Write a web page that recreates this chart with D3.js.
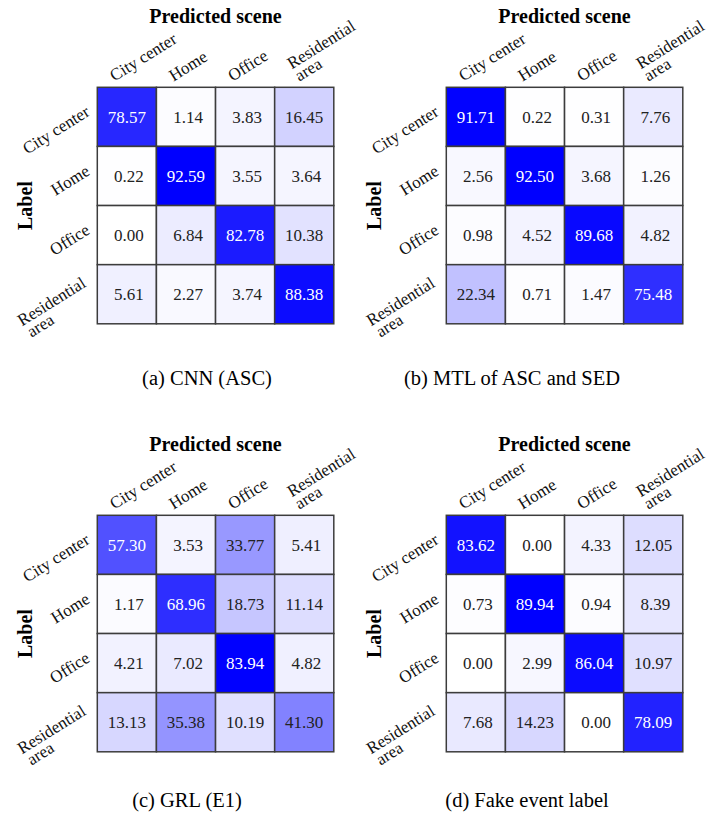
<!DOCTYPE html>
<html>
<head>
<meta charset="utf-8">
<script src="https://cdn.jsdelivr.net/npm/d3@7"></script>
<style>
  body { margin: 0; background: #fff; }
  text { font-family: "Liberation Serif", "Times New Roman", serif; }
</style>
</head>
<body>
<svg id="chart" width="722" height="814" font-family="Liberation Serif, serif"></svg>
<script>
// scene classes (axis tick labels, split into lines)
const scenes = ["City center", "Home", "Office", "Residential area"];
const sceneLines = [["City center"], ["Home"], ["Office"], ["Residential", "area"]];

// confusion matrices (%), rows = label, cols = predicted
const cnnAsc = [
  [78.57, 1.14, 3.83, 16.45],
  [0.22, 92.59, 3.55, 3.64],
  [0.0, 6.84, 82.78, 10.38],
  [5.61, 2.27, 3.74, 88.38],
];
const mtlAscSed = [
  [91.71, 0.22, 0.31, 7.76],
  [2.56, 92.5, 3.68, 1.26],
  [0.98, 4.52, 89.68, 4.82],
  [22.34, 0.71, 1.47, 75.48],
];
const grlE1 = [
  [57.3, 3.53, 33.77, 5.41],
  [1.17, 68.96, 18.73, 11.14],
  [4.21, 7.02, 83.94, 4.82],
  [13.13, 35.38, 10.19, 41.3],
];
const fakeEvent = [
  [83.62, 0.0, 4.33, 12.05],
  [0.73, 89.94, 0.94, 8.39],
  [0.0, 2.99, 86.04, 10.97],
  [7.68, 14.23, 0.0, 78.09],
];
const captions = ["(a) CNN (ASC)", "(b) MTL of ASC and SED", "(c) GRL (E1)", "(d) Fake event label"];

const svg = d3.select("#chart");
const size = 236.5; // matrix side
const angle = 32;   // tick label rotation
const lh = 14.5;    // line height of two-line labels
const fmt = d3.format("5.2f");

// panel layout: matrix top-left and caption position
const panels = [
  { data: cnnAsc, ox: 97.3, oy: 87.3, capX: 207, capY: 385 },
  { data: mtlAscSed, ox: 446.3, oy: 87.3, capX: 512, capY: 385 },
  { data: grlE1, ox: 97.3, oy: 515.3, capX: 187, capY: 807 },
  { data: fakeEvent, ox: 446.3, oy: 515.3, capX: 527, capY: 807 },
];

panels.forEach((p, i) => drawPanel(p, captions[i]));

function drawPanel(p, caption) {
  const g = svg.append("g");
  const x = d3.scaleBand().domain(scenes).range([p.ox, p.ox + size]);
  const y = d3.scaleBand().domain(scenes).range([p.oy, p.oy + size]);
  const vmax = d3.max(p.data.flat());
  const color = d3.scaleLinear().domain([0, vmax])
    .range(["#ffffff", "#0000ff"]).interpolate(d3.interpolateRgb);

  const cells = p.data.flatMap((row, r) =>
    row.map((v, c) => ({ row: scenes[r], col: scenes[c], v })));

  g.selectAll("rect.cell")
    .data(cells)
    .join("rect")
    .attr("class", "cell")
    .attr("x", (d) => x(d.col))
    .attr("y", (d) => y(d.row))
    .attr("width", x.bandwidth())
    .attr("height", y.bandwidth())
    .attr("fill", (d) => color(d.v))
    .attr("stroke", "#3c3c3c")
    .attr("stroke-width", 1.5);

  g.selectAll("text.val")
    .data(cells)
    .join("text")
    .attr("class", "val")
    .attr("x", (d) => x(d.col) + x.bandwidth() / 2)
    .attr("y", (d) => y(d.row) + y.bandwidth() / 2 + 6)
    .attr("text-anchor", "middle")
    .style("white-space", "pre")
    .attr("font-size", 17)
    .attr("fill", (d) => (d.v > vmax / 2 ? "#fff" : "#222"))
    .text((d) => fmt(d.v));

  // column tick labels: rotated box aligned left/bottom like matplotlib
  scenes.forEach((s, k) => {
    const lines = sceneLines[k];
    const t = g.append("g").attr("transform", `rotate(${-angle})`);
    lines.forEach((ln, j) => {
      t.append("text")
        .attr("x", 0)
        .attr("y", j * lh)
        .attr("font-size", 17)
        .attr("fill", "#111")
        .text(ln);
    });
    const r = t.node().getBoundingClientRect();
    const cx = x(s) + x.bandwidth() / 2;
    const dx = cx - 20.5 - r.left;
    const dy = p.oy - 2.2 - r.bottom;
    t.attr("transform", `translate(${dx},${dy}) rotate(${-angle})`);
  });

  // row tick labels: anchored at right end, vertically centred
  scenes.forEach((s, k) => {
    const lines = sceneLines[k];
    const cy = y(s) + y.bandwidth() / 2;
    const t = g.append("g")
      .attr("transform", `translate(${p.ox - 6.5},${cy - 2}) rotate(${-angle})`);
    const n = lines.length;
    const first = t.append("text")
      .attr("x", 0)
      .attr("y", (0 - (n - 1) / 2) * lh)
      .attr("text-anchor", "end")
      .attr("font-size", 17)
      .attr("fill", "#111")
      .text(lines[0]);
    if (n > 1) {
      const w = first.node().getComputedTextLength();
      t.append("text")
        .attr("x", -w + 2)
        .attr("y", (1 - (n - 1) / 2) * lh)
        .attr("font-size", 17)
        .attr("fill", "#111")
        .text(lines[1]);
    }
  });

  // titles
  g.append("text")
    .attr("x", p.ox + size / 2)
    .attr("y", p.oy - 64)
    .attr("text-anchor", "middle")
    .attr("font-size", 20)
    .attr("font-weight", "bold")
    .text("Predicted scene");

  g.append("text")
    .attr("transform", `translate(${p.ox - 65},${p.oy + size / 2}) rotate(-90)`)
    .attr("text-anchor", "middle")
    .attr("font-size", 20)
    .attr("font-weight", "bold")
    .text("Label");

  g.append("text")
    .attr("x", p.capX)
    .attr("y", p.capY)
    .attr("text-anchor", "middle")
    .attr("font-size", 20.5)
    .text(caption);
}
</script>
</body>
</html>
